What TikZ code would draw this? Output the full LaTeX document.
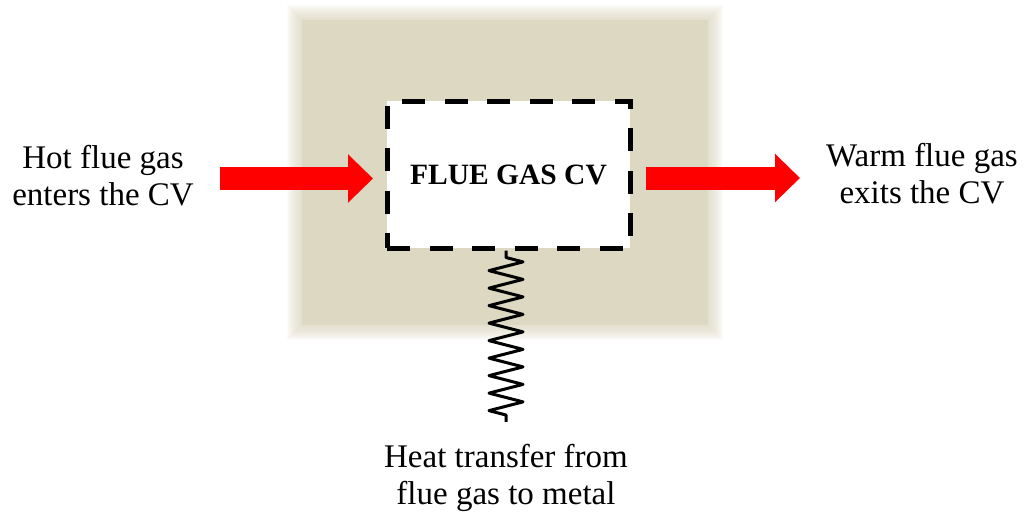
\documentclass[tikz,border=0pt]{standalone}
\usepackage{fontspec}
\setmainfont{Liberation Serif}
\usetikzlibrary{arrows.meta,decorations.pathmorphing}

\definecolor{cvback}{RGB}{221,216,194}
\definecolor{flowred}{RGB}{255,0,0}

\tikzset{
  flow/.style={flowred, line width=23pt, -{Triangle[length=25pt, width=47pt]}},
  spring/.style={line width=3pt, line join=round, decorate,
    decoration={zigzag, amplitude=17pt, segment length=17.5pt,
      pre length=7pt, post length=6pt}},
  label/.style={align=center, font=\fontsize{33}{37}\selectfont},
  cvbox/.style={draw, fill=white, line width=5pt, dash pattern=on 23pt off 19.5pt,
    minimum width=243pt, minimum height=147pt,
    font=\fontsize{29.5}{33}\selectfont\bfseries}
}

\begin{document}
\begin{tikzpicture}[x=1pt, y=-1pt]
  \useasboundingbox (0,0) rectangle (1023,512);

  % shaded back panel with soft edge
  \def\bxmin{302}
  \def\bxmax{708}
  \def\bymin{20}
  \def\bymax{325}
  \foreach \g in {1,...,15} {
    \fill[cvback, opacity=0.09] (\bxmin-\g, \bymin-\g) rectangle (\bxmax+\g, \bymax+\g);
  }
  \fill[cvback] (\bxmin, \bymin) rectangle (\bxmax, \bymax);

  \node[cvbox] (cv) at (508.5, 174.5) {FLUE GAS CV};

  \node[label] (hotin)   at (103, 175.5) {Hot flue gas\\enters the CV};
  \node[label] (warmout) at (922, 174)   {Warm flue gas\\exits the CV};
  \node[label] (heat)    at (506, 478)   {Heat transfer from\\flue gas to metal};

  \coordinate (inA)  at (220, 178.5);
  \coordinate (inB)  at (373, 178.5);
  \coordinate (outA) at (646, 178);
  \coordinate (outB) at (800, 178);

  \draw[flow] (inA) -- (inB);
  \draw[flow] (outA) -- (outB);

  \draw[spring] (cv.south -| heat.north) -- ([yshift=19pt]heat.north);
\end{tikzpicture}
\end{document}
